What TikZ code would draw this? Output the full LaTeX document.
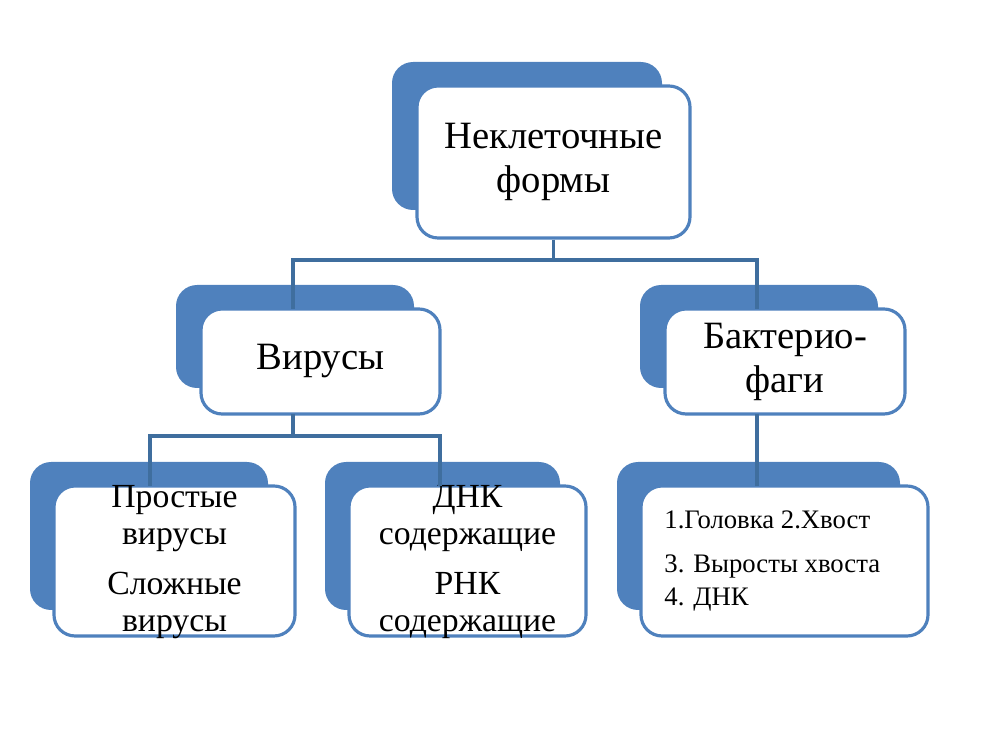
\documentclass[tikz,border=0pt]{standalone}
\usepackage{fontspec}
\setmainfont{Liberation Serif}
\definecolor{boxblue}{HTML}{4F81BD}
\definecolor{linkblue}{HTML}{3F6E9E}
\tikzset{
  frontbox/.style={draw=boxblue, line width=0.9pt, fill=white, rounded corners=6pt, inner sep=0pt, align=center, font=\fontsize{11}{12.5}\selectfont},
  tightbox/.style={frontbox, font=\fontsize{9.6}{10.4}\selectfont},
  link/.style={draw=linkblue, line width=0.9pt}
}
\begin{document}
\begin{tikzpicture}[x=0.1mm,y=-0.1mm]
	\useasboundingbox (0,0) rectangle (1000,750);

	%Top
	\fill[boxblue, rounded corners=6pt] (392,62) rectangle (662,210);
	\node[frontbox, minimum width=27.3mm, minimum height=15.2mm] (top) at (553.5,162) {Неклеточные\\формы};

	%Second row
	\fill[boxblue, rounded corners=6pt] (176,285) rectangle (414,388);
	\node[frontbox, minimum width=23.9mm, minimum height=10.5mm] (vir) at (320.5,361.5) {Вирусы};

	\fill[boxblue, rounded corners=6pt] (640,285) rectangle (878,388);
	\node[frontbox, minimum width=24mm, minimum height=10.5mm] (bac) at (785,361.5) {Бактерио-\\фаги};

	%Third row
	\fill[boxblue, rounded corners=6pt] (30,462) rectangle (268,610);
	\draw[boxblue, line width=0.9pt, fill=white, rounded corners=6pt] (54,486) rectangle (295,636);
	\node[tightbox, draw=none, fill=none] (simple) at (174.5,562)
		{Простые\\вирусы\\[4pt]Сложные\\вирусы};

	\fill[boxblue, rounded corners=6pt] (325,462) rectangle (560,610);
	\draw[boxblue, line width=0.9pt, fill=white, rounded corners=6pt] (349,486) rectangle (586,636);
	\node[tightbox, draw=none, fill=none] (dna) at (467.5,562)
		{ДНК\\содержащие\\[4pt]РНК\\содержащие};

	\fill[boxblue, rounded corners=6pt] (617,462) rectangle (900,610);
	\draw[boxblue, line width=0.9pt, fill=white, rounded corners=6pt] (641,486) rectangle (928,636);
	\node[anchor=west, align=left, font=\fontsize{7.6}{9.5}\selectfont] (parts) at (652,561)
		{1.Головка 2.Хвост\\[3pt]3. Выросты хвоста\\4. ДНК};

	%Links
	\coordinate (j1) at (553.5,260);
	\coordinate (j2) at (293,436);
	\draw[link] (top.south) -- (j1);
	\draw[link] (j1) -| (293,309) (j1) -| (757,309);
	\draw[link] (293,414) -- (j2);
	\draw[link] (j2) -| (150,486) (j2) -| (440,486);
	\draw[link] (757,414) -- (757,486);
\end{tikzpicture}
\end{document}
